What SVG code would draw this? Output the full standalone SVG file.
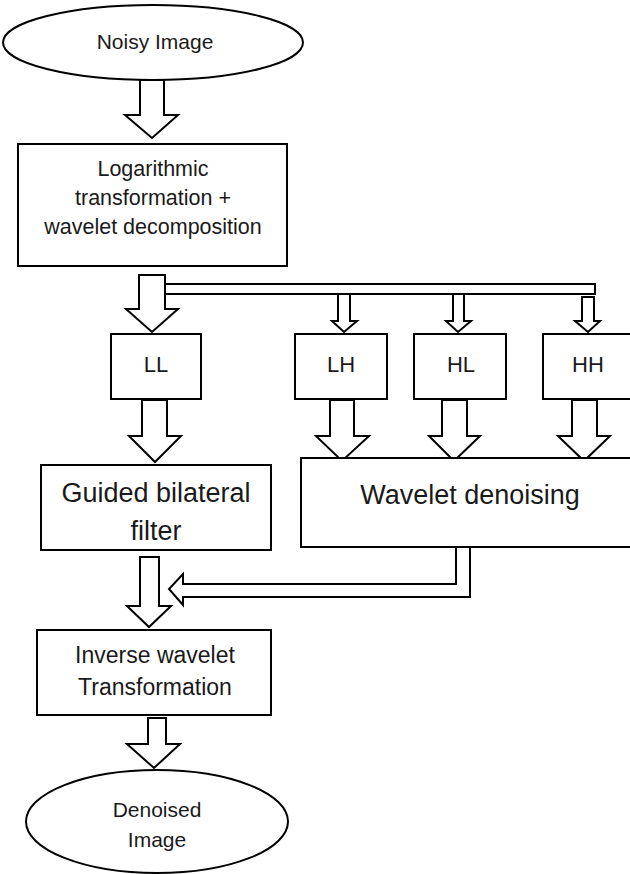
<svg xmlns="http://www.w3.org/2000/svg" width="630" height="874" viewBox="0 0 630 874">
<style>
.shape{fill:#fff;stroke:#000;stroke-width:2}
.arrow{fill:#fff;stroke:#000;stroke-width:2;stroke-linejoin:miter}
text{font-family:"Liberation Sans",Arial,sans-serif;fill:#1a1a1a;text-anchor:middle}
.t21{font-size:21px}.t215{font-size:21.5px}.t22{font-size:22px}.t23{font-size:23px}.t27{font-size:27px}
</style>
<rect width="630" height="874" fill="#fff"/>
<g id="connectors">
<polygon class="arrow" points="140,80 164,80 164,115 178,115 152,138 125,115 140,115"/>
<rect class="arrow" x="165" y="284" width="430" height="10"/>
<polygon class="arrow" points="139,275 165,275 165,309 178,309 152,332 126,309 139,309"/>
<polygon class="arrow" points="338,294 350,294 350,321 357,321 344,332 332,321 338,321"/>
<polygon class="arrow" points="453,294 464,294 464,321 471,321 458,332 446,321 453,321"/>
<polygon class="arrow" points="582,297 594,297 594,321 600,321 588,332 575,321 582,321"/>
<polygon class="arrow" points="142,400 167,400 167,436 181,436 155,462 129,436 142,436"/>
<polygon class="arrow" points="330,400 354,400 354,436 369,436 342,461 316,436 330,436"/>
<polygon class="arrow" points="442,400 467,400 467,436 480,436 454,461 429,436 442,436"/>
<polygon class="arrow" points="572,400 597,400 597,436 610,436 584,461 558,436 572,436"/>
<polygon class="arrow" points="456,547 456,584 183,584 183,574 169,589 183,605 183,597 470,597 470,547"/>
<polygon class="arrow" points="140,557 159,557 159,606 171,606 149,627 127,606 140,606"/>
<polygon class="arrow" points="148,718 166,718 166,744 180,744 154,768 127,744 148,744"/>
</g>
<g id="noisy-image">
<ellipse class="shape" cx="153" cy="42.5" rx="150" ry="37.5"/>
<text class="t21" x="155" y="49">Noisy Image</text>
</g>
<g id="log-wavelet">
<rect class="shape" x="18" y="144" width="269" height="122"/>
<text class="t215" x="153" y="176">Logarithmic</text>
<text class="t215" x="153" y="205">transformation +</text>
<text class="t215" x="153" y="234">wavelet decomposition</text>
</g>
<g id="ll">
<rect class="shape" x="111" y="334" width="90" height="65"/>
<text class="t22" x="156" y="372">LL</text>
</g>
<g id="lh">
<rect class="shape" x="295" y="334" width="92" height="65"/>
<text class="t22" x="341" y="372">LH</text>
</g>
<g id="hl">
<rect class="shape" x="414" y="334" width="92" height="65"/>
<text class="t22" x="461" y="372">HL</text>
</g>
<g id="hh">
<rect class="shape" x="543" y="334" width="92" height="65"/>
<text class="t22" x="588" y="372">HH</text>
</g>
<g id="guided-bilateral">
<rect class="shape" x="41" y="465" width="230" height="85"/>
<text class="t27" x="156" y="502">Guided bilateral</text>
<text class="t27" x="156" y="540">filter</text>
</g>
<g id="wavelet-denoising">
<rect class="shape" x="301" y="458" width="340" height="89"/>
<text class="t27" x="470" y="504">Wavelet denoising</text>
</g>
<g id="inverse-wavelet">
<rect class="shape" x="37" y="630" width="234" height="85"/>
<text class="t23" x="155" y="663">Inverse wavelet</text>
<text class="t23" x="155" y="695">Transformation</text>
</g>
<g id="denoised-image">
<ellipse class="shape" cx="157" cy="821.5" rx="131" ry="51.5"/>
<text class="t21" x="157" y="817">Denoised</text>
<text class="t21" x="157" y="847">Image</text>
</g>
</svg>
